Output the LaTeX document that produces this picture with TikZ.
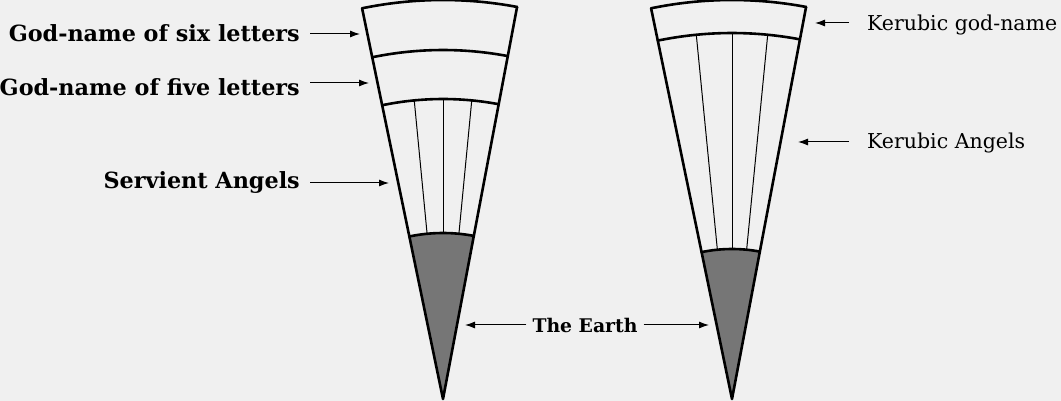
\documentclass[tikz,border=0pt]{standalone}
\usepackage{fontspec}
\setmainfont{DejaVu Serif}
\usetikzlibrary{arrows.meta}

\definecolor{paper}{HTML}{F0F0F0}
\definecolor{earthgray}{HTML}{767676}

\begin{document}
\begin{tikzpicture}[x=1pt, y=1pt]
\tikzset{rim/.style={line width=2.6pt, line cap=round, line join=round},
    ray/.style={line width=1pt},
    arr/.style={line width=1pt, -{Latex[length=10pt, width=7pt]}},
    lblL/.style={font=\fontsize{22.3}{26}\selectfont\bfseries, inner xsep=10pt, inner ysep=0pt},
    lblR/.style={font=\fontsize{20.5}{24}\selectfont, inner xsep=18pt, inner ysep=0pt}}

\fill[paper] (0,0) rectangle (1061,401);
\useasboundingbox (0,0) rectangle (1061,401);

% left cone
\coordinate (apexL) at (443,2);
\fill[earthgray] (apexL) -- ([shift={(101.7:166)}]apexL)
    arc[start angle=101.7, end angle=79.3, radius=166] -- cycle;
\foreach \a in {84.5,90,95.5}
    \draw[ray] ([shift={(\a:166)}]apexL) -- ([shift={(\a:300)}]apexL);
\draw[rim] ([shift={(101.7:399)}]apexL) -- (apexL) -- ([shift={(79.3:399)}]apexL);
\foreach \r in {399,349,300,166}
    \draw[rim] ([shift={(101.7:\r)}]apexL) arc[start angle=101.7, end angle=79.3, radius=\r];

% right cone
\coordinate (apexR) at (732,2);
\fill[earthgray] (apexR) -- ([shift={(101.7:150)}]apexR)
    arc[start angle=101.7, end angle=79.3, radius=150] -- cycle;
\foreach \a in {84.4,90,95.6}
    \draw[ray] ([shift={(\a:150)}]apexR) -- ([shift={(\a:366)}]apexR);
\draw[rim] ([shift={(101.7:399)}]apexR) -- (apexR) -- ([shift={(79.3:399)}]apexR);
\foreach \r in {399,366,150}
    \draw[rim] ([shift={(101.7:\r)}]apexR) arc[start angle=101.7, end angle=79.3, radius=\r];

% labels, left
\node[lblL, anchor=base east] (six) at (310,359) {God-name of six letters};
\node[lblL, anchor=base east] (five) at (310,305) {God-name of five letters};
\node[lblL, anchor=base east] (servient) at (310,212) {Servient Angels};
\coordinate (sixTip) at (360,367);
\coordinate (fiveTip) at (369,318);
\coordinate (servientTip) at (389,218);
\draw[arr] (six.east |- sixTip) -- (sixTip);
\draw[arr] (five.east |- fiveTip) -- (fiveTip);
\draw[arr] (servient.east |- servientTip) -- (servientTip);

% labels, right
\node[lblR, anchor=base west] (kname) at (849,370) {Kerubic god-name};
\node[lblR, anchor=base west] (kangels) at (849,252) {Kerubic Angels};
\coordinate (knameTip) at (815,378);
\coordinate (kangelsTip) at (798,259);
\draw[arr] (kname.west |- knameTip) -- (knameTip);
\draw[arr] (kangels.west |- kangelsTip) -- (kangelsTip);

% the earth
\node[font=\fontsize{18.8}{22}\selectfont\bfseries, inner xsep=6pt, inner ysep=0pt, anchor=base]
    (earth) at (585,68) {The Earth};
\coordinate (earthL) at (465,76);
\coordinate (earthR) at (709,76);
\draw[arr] (earth.west |- earthL) -- (earthL);
\draw[arr] (earth.east |- earthR) -- (earthR);
\end{tikzpicture}
\end{document}
